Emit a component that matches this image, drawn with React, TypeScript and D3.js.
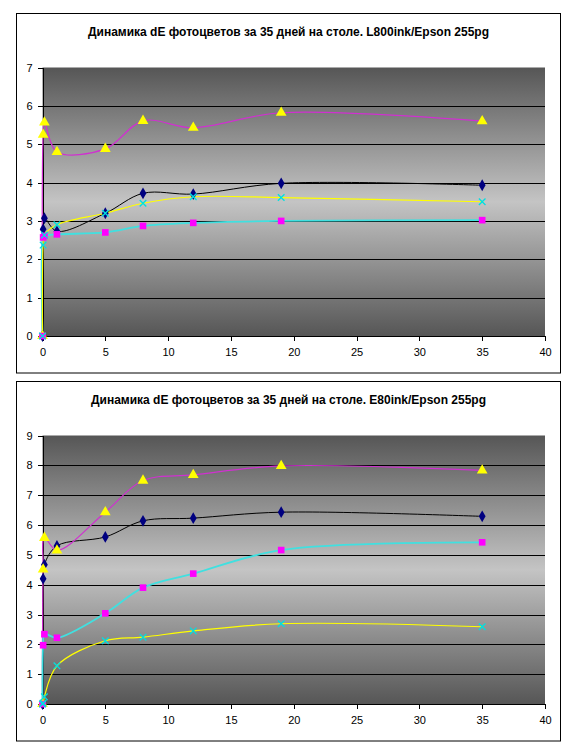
import * as d3 from 'd3';
import React, { useEffect } from 'react';

// time since printing, days
const days = [0, 0.05, 0.15, 1.15, 5, 8, 12, 19, 35];
const xTicks = [0, 5, 10, 15, 20, 25, 30, 35, 40];

// L800ink / Epson 255pg
const l800Navy = [0, 2.78, 3.07, 2.73, 3.2, 3.72, 3.7, 3.98, 3.93];
const l800Yellow = [0, 5.25, 5.57, 4.8, 4.88, 5.61, 5.43, 5.82, 5.6];
const l800Magenta = [0, 2.57, 2.61, 2.65, 2.7, 2.87, 2.95, 3.0, 3.02];
const l800Cyan = [0, 2.37, 2.63, 2.9, 3.2, 3.46, 3.63, 3.61, 3.5];

// E80ink / Epson 255pg
const e80Navy = [0, 4.2, 4.67, 5.3, 5.6, 6.14, 6.23, 6.43, 6.29];
const e80Yellow = [0, 4.51, 5.57, 5.15, 6.43, 7.49, 7.68, 7.98, 7.83];
const e80Magenta = [0, 1.97, 2.34, 2.22, 3.04, 3.9, 4.37, 5.16, 5.42];
const e80Cyan = [0, 0.03, 0.24, 1.28, 2.12, 2.24, 2.45, 2.69, 2.59];

const titles = [
  'Динамика dE фотоцветов за 35 дней на столе. L800ink/Epson 255pg',
  'Динамика dE фотоцветов за 35 дней на столе. E80ink/Epson 255pg',
];
const yMaxes = [7, 9];

// marker + line look for each series (same order in both charts)
const styles = [
  { symbol: d3.symbolDiamond, size: 40, fill: '#000080', stroke: 'none', line: '#000000', width: 1 },
  { symbol: d3.symbolTriangle, size: 50, fill: '#ffff00', stroke: 'none', line: '#d030d0', width: 1.2 },
  { symbol: d3.symbolSquare, size: 44, fill: '#ff00ff', stroke: 'none', line: '#40e0e0', width: 1.8 },
  { symbol: d3.symbolX, size: 30, fill: 'none', stroke: '#00e0e0', line: '#ffff00', width: 1.2 },
];

const charts = [
  { title: titles[0], yMax: yMaxes[0], series: [l800Navy, l800Yellow, l800Magenta, l800Cyan] },
  { title: titles[1], yMax: yMaxes[1], series: [e80Navy, e80Yellow, e80Magenta, e80Cyan] },
];

export default function App() {
  const ref = React.useRef<SVGSVGElement>(null);

  useEffect(() => {
    if (!ref.current) return;
    const root = d3.select(ref.current);
    root.selectAll('*').remove();

    const defs = root.append('defs');
    const grad = defs
      .append('linearGradient')
      .attr('id', 'plotBg')
      .attr('x1', 0)
      .attr('y1', 0)
      .attr('x2', 0)
      .attr('y2', 1);
    grad.append('stop').attr('offset', '0%').attr('stop-color', '#565656');
    grad.append('stop').attr('offset', '50%').attr('stop-color', '#c4c4c4');
    grad.append('stop').attr('offset', '100%').attr('stop-color', '#565656');

    const left = 42.5;
    const right = 545;

    charts.forEach((chart, ci) => {
      const top = ci === 0 ? 13.5 : 381.5;
      const plotTop = top + 54;
      const plotBottom = top + 322.5;

      const g = root.append('g');

      // chart area frame
      g.append('rect')
        .attr('x', 16.5)
        .attr('y', top)
        .attr('width', 544)
        .attr('height', 359.5)
        .attr('fill', '#ffffff')
        .attr('stroke', '#000000');

      g.append('text')
        .attr('x', 288.5)
        .attr('y', top + 22)
        .attr('text-anchor', 'middle')
        .style('font-family', '"Liberation Sans", Arial, sans-serif')
        .style('font-size', '12px')
        .style('font-weight', 'bold')
        .text(chart.title);

      const x = d3.scaleLinear().domain([0, 40]).range([left, right]);
      const y = d3.scaleLinear().domain([0, chart.yMax]).range([plotBottom, plotTop]);

      g.append('rect')
        .attr('x', left)
        .attr('y', plotTop)
        .attr('width', right - left)
        .attr('height', plotBottom - plotTop)
        .attr('fill', 'url(#plotBg)');

      // gridlines
      g.append('g')
        .selectAll('line')
        .data(d3.range(1, chart.yMax))
        .enter()
        .append('line')
        .attr('x1', left)
        .attr('x2', right)
        .attr('y1', d => Math.round(y(d)) + 0.5)
        .attr('y2', d => Math.round(y(d)) + 0.5)
        .attr('stroke', '#000000')
        .attr('shape-rendering', 'crispEdges');

      const axisFont = (sel: any) =>
        sel
          .selectAll('text')
          .style('font-family', '"Liberation Sans", Arial, sans-serif')
          .style('font-size', '11px')
          .attr('fill', '#000000');

      const yAxis = g
        .append('g')
        .attr('transform', `translate(${left},0)`)
        .call(
          d3
            .axisLeft(y)
            .tickValues(d3.range(0, chart.yMax + 1))
            .tickFormat(d3.format('d'))
            .tickSize(5)
            .tickSizeOuter(0)
            .tickPadding(5)
        );
      yAxis.selectAll('path,line').attr('stroke', '#000000').attr('shape-rendering', 'crispEdges');
      axisFont(yAxis);

      const xAxis = g
        .append('g')
        .attr('transform', `translate(0,${plotBottom})`)
        .call(
          d3
            .axisBottom(x)
            .tickValues(xTicks)
            .tickFormat(d3.format('d'))
            .tickSize(5)
            .tickSizeOuter(0)
            .tickPadding(7)
        );
      xAxis.selectAll('path,line').attr('stroke', '#000000').attr('shape-rendering', 'crispEdges');
      axisFont(xAxis);

      const line = d3
        .line<number>()
        .x((_, i) => x(days[i]))
        .y(d => y(d))
        .curve(d3.curveCatmullRom.alpha(0.5));

      chart.series.forEach((values, si) => {
        const st = styles[si];
        g.append('path')
          .datum(values)
          .attr('d', line)
          .attr('fill', 'none')
          .attr('stroke', st.line)
          .attr('stroke-width', st.width);
      });

      chart.series.forEach((values, si) => {
        const st = styles[si];
        const sym = d3.symbol().type(st.symbol).size(st.size);
        g.append('g')
          .selectAll('path')
          .data(values)
          .enter()
          .append('path')
          .attr('transform', (d, i) => `translate(${x(days[i])},${y(d)})`)
          .attr('d', sym() as string)
          .attr('fill', st.fill)
          .attr('stroke', st.stroke)
          .attr('stroke-width', 1.3);
      });
    });
  }, []);

  return (
    <svg
      ref={ref}
      width={579}
      height={756}
      style={{ position: 'absolute', left: 0, top: 0, background: '#ffffff' }}
    />
  );
}
